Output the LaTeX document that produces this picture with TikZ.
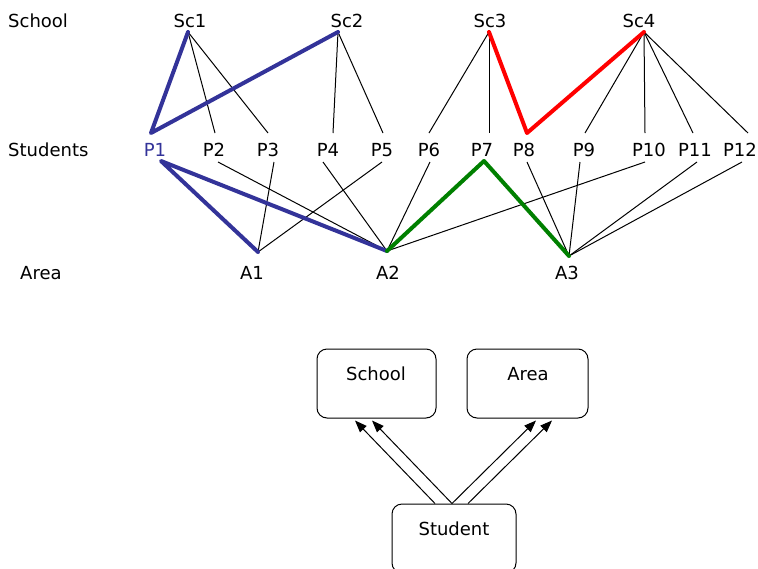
\documentclass[tikz,border=0pt]{standalone}
\usepackage{fontspec}
\setmainfont{DejaVu Sans}
\usetikzlibrary{calc,arrows.meta}
\definecolor{pathblue}{RGB}{51,51,153}
\definecolor{pathred}{RGB}{255,0,0}
\definecolor{pathgreen}{RGB}{0,128,0}
\tikzset{
  lbl/.style={font=\fontsize{18}{21}\selectfont, inner sep=0pt, anchor=base},
  edge/.style={line width=1pt},
  hl/.style={line width=4pt, line join=round, line cap=round},
  box/.style={draw, line width=1pt, rounded corners=10pt, inner sep=0pt},
  dep/.style={line width=1pt, -{Triangle[length=12pt,width=9pt]}},
}
\begin{document}
\begin{tikzpicture}[x=1pt,y=-1pt]
\useasboundingbox (0,0) rectangle (758,568);

% row captions
\node[lbl, anchor=base west] (capSchool) at (8,27) {School};
\node[lbl, anchor=base west] (capStudents) at (8,156) {Students};
\node[lbl, anchor=base west] (capArea) at (20,279) {Area};

% schools
\node[lbl] (Sc1) at (190,27) {Sc1};
\node[lbl] (Sc2) at (347,27) {Sc2};
\node[lbl] (Sc3) at (490,27) {Sc3};
\node[lbl] (Sc4) at (639,27) {Sc4};

% students
\node[lbl, text=pathblue] (P1) at (155,156) {P1};
\node[lbl] (P2) at (214,156) {P2};
\node[lbl] (P3) at (268,156) {P3};
\node[lbl] (P4) at (328,156) {P4};
\node[lbl] (P5) at (382,156) {P5};
\node[lbl] (P6) at (429,156) {P6};
\node[lbl] (P7) at (482,156) {P7};
\node[lbl] (P8) at (524,156) {P8};
\node[lbl] (P9) at (584,156) {P9};
\node[lbl] (P10) at (649,156) {P10};
\node[lbl] (P11) at (695,156) {P11};
\node[lbl] (P12) at (740,156) {P12};

% areas
\node[lbl] (A1) at (252,279) {A1};
\node[lbl] (A2) at (388,279) {A2};
\node[lbl] (A3) at (567,279) {A3};

% attachment points of the links
\coordinate (sc1) at (188,32);
\coordinate (sc2) at (338,32);
\coordinate (sc3) at (489,32);
\coordinate (sc4) at (644,32);

\coordinate (p1t) at (151,133);
\coordinate (p2t) at (215,133);
\coordinate (p3t) at (268,133);
\coordinate (p4t) at (333,133);
\coordinate (p5t) at (383,133);
\coordinate (p6t) at (429,133);
\coordinate (p7t) at (489,133);
\coordinate (p8t) at (527,133);
\coordinate (p9t) at (585,133);
\coordinate (p10t) at (645,133);
\coordinate (p11t) at (693,133);
\coordinate (p12t) at (748,133);

\coordinate (p1b) at (161,161);
\coordinate (p2b) at (218,162);
\coordinate (p3b) at (274,162);
\coordinate (p4b) at (323,162);
\coordinate (p5b) at (382,162);
\coordinate (p6b) at (430,162);
\coordinate (p7b) at (484,161);
\coordinate (p8b) at (527,162);
\coordinate (p9b) at (580,162);
\coordinate (p10b) at (645,162);
\coordinate (p11b) at (697,162);
\coordinate (p12b) at (742,162);

\coordinate (a1) at (258,252);
\coordinate (a2) at (387,251);
\coordinate (a3) at (569,256);

% school -- student links
\draw[edge] (sc1) -- (p2t);
\draw[edge] (sc1) -- (p3t);
\draw[edge] (sc2) -- (p4t);
\draw[edge] (sc2) -- (p5t);
\draw[edge] (sc3) -- (p6t);
\draw[edge] (sc3) -- (p7t);
\draw[edge] (sc4) -- (p9t);
\draw[edge] (sc4) -- (p10t);
\draw[edge] (sc4) -- (p11t);
\draw[edge] (sc4) -- (p12t);

% student -- area links
\draw[edge] (p2b) -- (a2);
\draw[edge] (p3b) -- (a1);
\draw[edge] (p4b) -- (a2);
\draw[edge] (p5b) -- (a1);
\draw[edge] (p6b) -- (a2);
\draw[edge] (p8b) -- (a3);
\draw[edge] (p9b) -- (a3);
\draw[edge] (p10b) -- (a2);
\draw[edge] (p11b) -- (a3);
\draw[edge] (p12b) -- (a3);

% highlighted paths
\draw[hl, pathblue] (sc1) -- (p1t) -- (sc2);
\draw[hl, pathblue] (a1) -- (p1b) -- (a2);
\draw[hl, pathred] (sc3) -- (p8t) -- (sc4);
\draw[hl, pathgreen] (a2) -- (p7b) -- (a3);

% schema boxes
\node[box, minimum width=119pt, minimum height=69pt] (schoolBox) at (376.5,383.5) {};
\node[box, minimum width=121pt, minimum height=69pt] (areaBox) at (527.5,383.5) {};
\begin{scope}
\clip (0,0) rectangle (758,568);
\node[box, minimum width=124pt, minimum height=69pt] (studentBox) at (454,538.5) {};
\end{scope}
\node[lbl] (schoolTxt) at (376,380) {School};
\node[lbl] (areaTxt) at (528,380) {Area};
\node[lbl] (studentTxt) at (454,535) {Student};

% references from Student
\draw[dep] ($(studentBox.north)+(-19,0)$) -- ($(schoolBox.south)+(-21.5,2)$);
\draw[dep] ($(studentBox.north)+(-2,0)$) -- ($(schoolBox.south)+(-4.5,2)$);
\draw[dep] ($(studentBox.north)+(-2,0)$) -- ($(areaBox.south)+(8.5,2)$);
\draw[dep] ($(studentBox.north)+(14,0)$) -- ($(areaBox.south)+(24.5,2)$);
\end{tikzpicture}
\end{document}
